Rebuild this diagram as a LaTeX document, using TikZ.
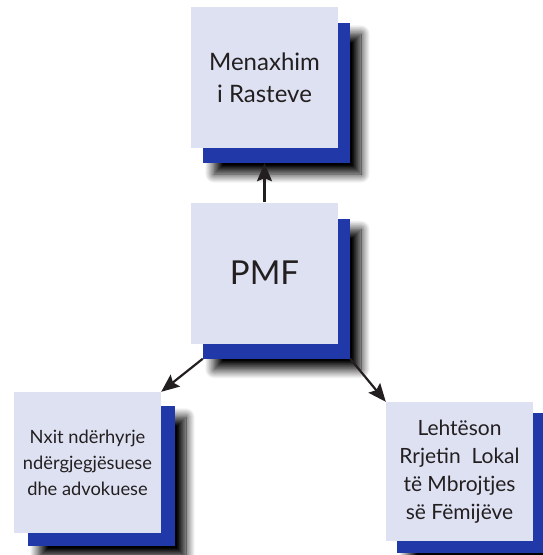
\documentclass[tikz,border=0pt]{standalone}
\usepackage{fontspec}
\setmainfont{Lato}
\usetikzlibrary{shadows.blur,arrows.meta}
\definecolor{lightbox}{RGB}{221,225,242}
\definecolor{bluebox}{RGB}{32,56,168}
\definecolor{txt}{RGB}{35,31,32}
\begin{document}
\begin{tikzpicture}[x=1pt,y=-1pt,
  backbox/.style={draw=none,fill=bluebox,minimum width=147pt,minimum height=140pt,inner sep=0pt,
    blur shadow={shadow xshift=11pt,shadow yshift=-11pt,shadow blur radius=9pt,shadow opacity=100,shadow blur steps=14}},
  frontbox/.style={draw=none,fill=lightbox,minimum width=147pt,minimum height=141pt,inner sep=0pt,
    text=txt,align=center},
  conn/.style={draw=txt,line width=2.2pt,-{Stealth[length=18pt,width=15pt,inset=3pt]}}]
\useasboundingbox (0,0) rectangle (542,555);
% top box
\node[backbox] (topb) at (276.5,93) {};
\node[frontbox,font=\fontsize{24}{32}\selectfont] (top) at (264.5,77.5) {Menaxhim\\i Rasteve};
% PMF
\node[backbox] (pmfb) at (276.5,288.5) {};
\node[frontbox,font=\fontsize{33}{40}\selectfont] (pmf) at (264.5,273) {PMF};
% bottom left
\node[backbox] (blb) at (101.5,476) {};
\node[frontbox,font=\fontsize{18.3}{26}\selectfont] (bl) at (87.5,462.5) {Nxit ndërhyrje\\ndërgjegjësuese\\dhe advokuese};
% bottom right
\node[backbox] (brb) at (470.5,483) {};
\node[frontbox,minimum height=139pt,font=\fontsize{21}{28}\selectfont] (br) at (459.5,471.5) {Lehtëson\\Rrjetin\ \ Lokal\\të Mbrojtjes\\së Fëmijëve};
% connectors
\draw[conn] (pmf.north) -- (pmf.north |- topb.south);
\draw[conn] (pmfb.south west) -- (bl.north east);
\draw[conn] (pmfb.south east) -- (br.north west);
\end{tikzpicture}
\end{document}
